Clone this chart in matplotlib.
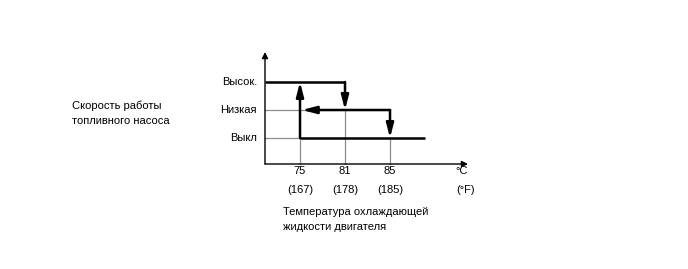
import matplotlib.pyplot as plt

plt.rcParams['font.family'] = ['Liberation Sans', 'DejaVu Sans']

temps_c = ['75', '81', '85']
temps_f = ['(167)', '(178)', '(185)']
tick_pos = [1, 2, 3]
levels = ['Выкл', 'Низкая', 'Высок.']
level_pos = [1, 2, 3]

fig = plt.figure(figsize=(6.88, 2.69), dpi=100)
ax = fig.add_axes([265 / 688, 1 - 164 / 269, 203 / 688, 112 / 269])
ax.set_xlim(0.222, 4.733)
ax.set_ylim(0.071, 4.071)
ax.axis('off')

x0, y0 = 0.222, 0.071
fs = 8
thin = dict(color='#8c8c8c', lw=0.9, clip_on=False)
thick = dict(color='black', lw=1.8, clip_on=False, solid_capstyle='butt')
arr = dict(arrowstyle='-|>,head_length=0.85,head_width=0.22', color='black', lw=1.8,
           mutation_scale=10, shrinkA=0, shrinkB=0)
axarr = dict(arrowstyle='-|>,head_length=0.6,head_width=0.3', color='black', lw=1.0,
             mutation_scale=6, shrinkA=0, shrinkB=0)

# оси со стрелками
ax.annotate('', xy=(4.733, y0), xytext=(x0, y0), arrowprops=axarr)
ax.annotate('', xy=(x0, 4.071), xytext=(x0, y0), arrowprops=axarr)

# тонкие вспомогательные линии
ax.plot([x0, tick_pos[2]], [level_pos[1]] * 2, **thin)
ax.plot([x0, tick_pos[0]], [level_pos[0]] * 2, **thin)
ax.plot([tick_pos[0]] * 2, [y0, level_pos[0]], **thin)
ax.plot([tick_pos[1]] * 2, [y0, level_pos[1]], **thin)
ax.plot([tick_pos[2]] * 2, [y0, level_pos[0]], **thin)

# гистерезис
ax.plot([x0, tick_pos[1]], [level_pos[2]] * 2, **thick)
ax.plot([tick_pos[0], 3.78], [level_pos[0]] * 2, **thick)
ax.annotate('', xy=(tick_pos[1], level_pos[1]), xytext=(tick_pos[1], level_pos[2]), arrowprops=arr)
ax.annotate('', xy=(tick_pos[2], level_pos[0]), xytext=(tick_pos[2], level_pos[1]), arrowprops=arr)
ax.annotate('', xy=(tick_pos[0] + 0.04, level_pos[1]), xytext=(tick_pos[2], level_pos[1]), arrowprops=arr)
ax.annotate('', xy=(tick_pos[0], level_pos[2]), xytext=(tick_pos[0], level_pos[0]), arrowprops=arr)

# подписи
for p, c, f in zip(tick_pos, temps_c, temps_f):
    ax.text(p, y0 - 0.25, c, ha='center', va='center', fontsize=fs)
    ax.text(p, y0 - 0.93, f, ha='center', va='center', fontsize=fs)
ax.text(4.6, y0 - 0.25, '°C', ha='center', va='center', fontsize=fs)
ax.text(4.67, y0 - 0.93, '(°F)', ha='center', va='center', fontsize=fs)
for p, l in zip(level_pos, levels):
    ax.text(0.044, p, l, ha='right', va='center', fontsize=fs)

fig.text(72 / 688, 1 - 106 / 269, 'Скорость работы', ha='left', va='center', fontsize=fs)
fig.text(72 / 688, 1 - 121 / 269, 'топливного насоса', ha='left', va='center', fontsize=fs)
fig.text(283 / 688, 1 - 212 / 269, 'Температура охлаждающей', ha='left', va='center', fontsize=fs)
fig.text(283 / 688, 1 - 227 / 269, 'жидкости двигателя', ha='left', va='center', fontsize=fs)

fig.savefig('out.png', dpi=100)
